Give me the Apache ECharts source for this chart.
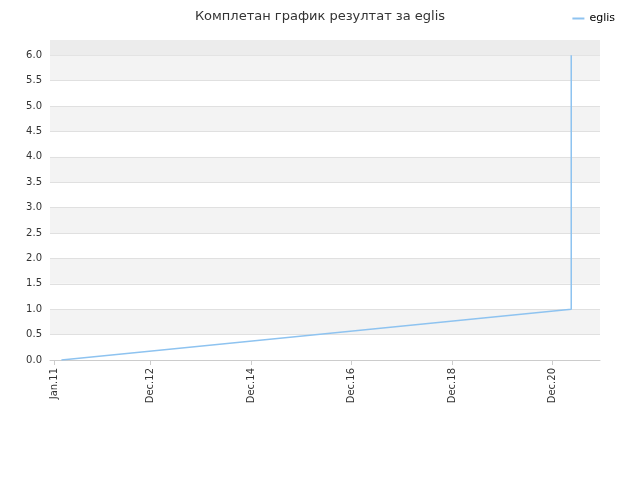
<!DOCTYPE html>
<html><head><meta charset="utf-8"><script src="https://cdn.jsdelivr.net/npm/echarts@6/dist/echarts.min.js"></script></head>
<body style="margin:0"><div id="c" style="width:640px;height:480px"></div>
<script>
const titleText = 'Комплетан график резултат за eglis';
const seriesName = 'eglis';
const dates = ['2011-02-22', '2021-04-15', '2021-04-15'];
const values = [0, 1, 6];
const tickDates = ['2011-01-01', '2012-12-01', '2014-12-01', '2016-12-01', '2018-12-01', '2020-12-01'];
const tickLabels = ['Jan.11', 'Dec.12', 'Dec.14', 'Dec.16', 'Dec.18', 'Dec.20'];
const ts = d => new Date(d + 'T00:00:00Z').getTime();
const tickTs = tickDates.map(ts);
const chart = echarts.init(document.getElementById('c'));
chart.setOption({
  animation: false,
  title: { text: titleText, left: 'center', top: 5, textStyle: { fontSize: 13, fontWeight: 'normal', color: '#333', fontFamily: 'DejaVu Sans' } },
  legend: { right: 20, top: 8, itemWidth: 12, itemHeight: 2, icon: 'rect', textStyle: { fontSize: 11, color: '#000', fontFamily: 'DejaVu Sans' }, data: [seriesName] },
  grid: { left: 50, right: 40, top: 40, bottom: 120 },
  xAxis: {
    type: 'value', min: ts('2010-12-01'), max: ts('2021-11-10'),
    axisLine: { lineStyle: { color: '#ccc' } },
    axisTick: { show: true, customValues: tickTs, lineStyle: { color: '#ccc' } },
    splitLine: { show: false },
    axisLabel: { customValues: tickTs, rotate: 90, fontSize: 10, color: '#333', fontFamily: 'DejaVu Sans',
      formatter: v => { const i = tickTs.indexOf(v); return i >= 0 ? tickLabels[i] : ''; } }
  },
  yAxis: {
    type: 'value', min: 0, max: 6.3, interval: 0.5,
    axisLine: { show: false }, axisTick: { show: false },
    splitLine: { lineStyle: { color: '#e0e0e0' } },
    splitArea: { show: true, areaStyle: { color: ['#ffffff', '#f3f3f3'] } },
    axisLabel: { fontSize: 10, color: '#333', fontFamily: 'DejaVu Sans', formatter: v => v > 6.01 ? '' : v.toFixed(1) }
  },
  series: [{
    name: seriesName, type: 'line', showSymbol: false, symbol: 'none',
    lineStyle: { color: '#8ec3f0', width: 1.5 }, itemStyle: { color: '#8ec3f0' },
    data: dates.map((d, i) => [ts(d), values[i]]),
    markArea: { silent: true, itemStyle: { color: '#ececec' }, data: [[{ yAxis: 6 }, { yAxis: 6.3 }]] }
  }]
});
</script></body></html>
